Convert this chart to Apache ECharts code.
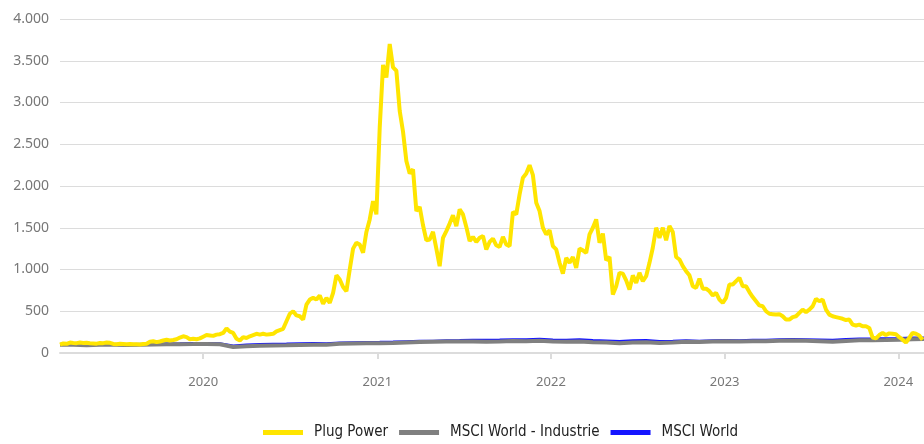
<!DOCTYPE html>
<html>
<head>
<meta charset="utf-8">
<script src="https://cdn.jsdelivr.net/npm/echarts@6/dist/echarts.min.js"></script>
<style>
    body { margin: 0 }
    #chart { width: 924px; height: 444px; }
</style>
</head>
<body>
<div id="chart"></div>
<script>
    // weekly points, first one on 2019-03-06
    const startDate = '2019-03-06';
    const endDate = '2024-02-24';

    const plugPower = [
        100, 115, 110, 125, 120, 118, 125, 120, 122, 118,
        115, 112, 120, 118, 125, 122, 108, 105, 110, 108,
        106, 108, 104, 106, 102, 108, 112, 135, 140, 130,
        138, 150, 158, 150, 155, 165, 185, 200, 190, 165,
        170, 165, 175, 195, 215, 210, 205, 220, 225, 240,
        295, 255, 240, 170, 150, 190, 180, 200, 215, 230,
        220, 230, 220, 225, 230, 260, 275, 290, 380, 470,
        500, 450, 440, 400, 580, 640, 660, 640, 690, 590,
        660, 600, 720, 930, 880, 790, 740, 1000, 1250, 1320,
        1300, 1200, 1450, 1600, 1820, 1660, 2700, 3450, 3300, 3700,
        3420, 3380, 2900, 2650, 2300, 2150, 2200, 1700, 1750, 1530,
        1350, 1360, 1450, 1250, 1040, 1380, 1460, 1550, 1650, 1520,
        1720, 1660, 1510, 1340, 1390, 1330, 1380, 1400, 1240, 1330,
        1370, 1290, 1270, 1390, 1300, 1280, 1690, 1660, 1900, 2100,
        2150, 2250, 2130, 1800, 1700, 1500, 1420, 1470, 1280, 1240,
        1080, 950, 1140, 1080, 1150, 1020, 1250, 1230, 1200, 1420,
        1500, 1600, 1320, 1430, 1110, 1150, 700, 800, 960, 950,
        870, 760, 930, 840, 960, 860, 920, 1080, 1260, 1500,
        1380, 1500, 1350, 1520, 1450, 1150, 1120, 1040, 980, 930,
        800, 780, 890, 770, 770, 740, 690, 720, 640, 600,
        660, 820, 820, 860, 900, 800, 800, 730, 670, 620,
        570, 560, 500, 470, 465, 460, 465, 440, 400, 400,
        430, 440, 480, 520, 490, 520, 560, 650, 620, 640,
        520, 460, 440, 430, 420, 410, 395, 400, 340, 330,
        340, 320, 320, 300, 185, 175, 215, 240, 215, 235,
        230, 225, 190, 160, 125, 180, 240, 230, 210, 160
    ];

    // four-weekly points, same start
    const msciIndustrie = [
        100, 98, 94, 99, 100, 96, 99, 101, 104, 106,
        107, 109, 104, 72, 82, 86, 90, 93, 97, 99,
        98, 110, 114, 116, 117, 120, 127, 132, 135, 137,
        138, 139, 136, 138, 143, 140, 146, 138, 134, 138,
        130, 125, 118, 127, 130, 120, 125, 134, 131, 138,
        140, 138, 142, 140, 146, 150, 146, 142, 135, 145,
        152, 154, 156, 160, 165, 167
    ];
    const msciWorld = [
        100, 102, 98, 103, 106, 103, 106, 107, 111, 113,
        116, 118, 115, 88, 98, 104, 108, 110, 115, 116,
        114, 124, 127, 129, 131, 134, 139, 144, 145, 150,
        153, 157, 155, 158, 163, 162, 168, 160, 155, 162,
        152, 148, 140, 150, 152, 142, 145, 150, 145, 150,
        152, 150, 155, 157, 162, 165, 163, 160, 156, 165,
        172, 173, 175, 178, 182, 184
    ];

    const DAY = 24 * 3600 * 1000;
    const t0 = new Date(startDate).getTime();
    const withDates = (values, stepDays) =>
        values.map((v, i) => [t0 + i * stepDays * DAY, v]);

    const chart = echarts.init(document.getElementById('chart'));

    const option = {
        animation: false,
        grid: { left: 60, right: 0, top: 19, bottom: 91 },
        legend: {
            top: 420,
            left: 258,
            icon: 'rect',
            itemWidth: 40,
            itemHeight: 5,
            itemGap: 11,
            textStyle: {
                fontFamily: 'DejaVu Sans Condensed, Liberation Sans Narrow, Roboto',
                fontSize: 15,
                color: '#222',
                padding: [2, 0, 0, 6]
            },
            data: ['Plug Power', 'MSCI World - Industrie', 'MSCI World']
        },
        xAxis: {
            type: 'time',
            min: startDate,
            max: endDate,
            splitNumber: 5,
            axisLine: { lineStyle: { color: '#dcdcdc', width: 2 } },
            axisTick: { show: true, length: 6, lineStyle: { color: '#dcdcdc', width: 2 } },
            splitLine: { show: false },
            axisLabel: {
                margin: 23,
                color: '#777',
                fontFamily: 'Noto Sans',
                fontSize: 13,
                showMinLabel: false,
                showMaxLabel: false,
                formatter: v => String(new Date(v).getFullYear())
            }
        },
        yAxis: {
            type: 'value',
            min: 0,
            max: 4000,
            interval: 500,
            axisLine: { show: false },
            axisTick: { show: false },
            splitLine: { lineStyle: { color: '#dcdcdc', width: 1 } },
            axisLabel: {
                margin: 11,
                color: '#777',
                fontFamily: 'Noto Sans',
                fontSize: 14,
                formatter: v => v.toLocaleString('de-DE')
            }
        },
        series: [
            {
                name: 'Plug Power',
                type: 'line',
                z: 3,
                showSymbol: false,
                color: '#ffe500',
                lineStyle: { width: 4 },
                data: withDates(plugPower, 7)
            },
            {
                name: 'MSCI World - Industrie',
                type: 'line',
                z: 2,
                showSymbol: false,
                color: '#808080',
                lineStyle: { width: 4 },
                data: withDates(msciIndustrie, 28)
            },
            {
                name: 'MSCI World',
                type: 'line',
                z: 1,
                showSymbol: false,
                color: '#1414ff',
                lineStyle: { width: 2.5 },
                data: withDates(msciWorld, 28)
            }
        ]
    };

    chart.setOption(option);
</script>
</body>
</html>
